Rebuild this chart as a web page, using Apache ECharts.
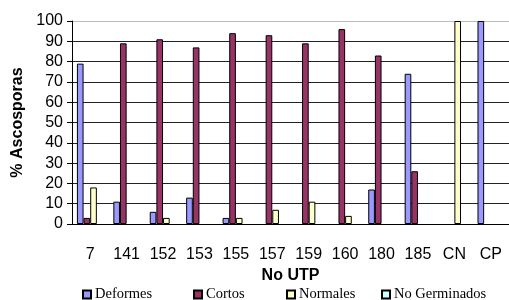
<!DOCTYPE html>
<html>
<head><meta charset="utf-8">
<script type="text/javascript" src="https://cdn.jsdelivr.net/npm/echarts@6/dist/echarts.min.js"></script>
</head>
<body style="margin:0;background:#fff;">
<div id="main" style="width:509px;height:300px;"></div>
<script type="text/javascript">
// categorias (No UTP)
var categorias = ['7', '141', '152', '153', '155', '157', '159', '160', '180', '185', 'CN', 'CP'];
// % ascosporas por tipo (null = sin barra)
var deformes = [79, 11, 6, 13, 3, null, null, null, 17, 74, null, 100];
var cortos = [3, 89, 91, 87, 94, 93, 89, 96, 83, 26, null, null];
var normales = [18, null, 3, null, 3, 7, 11, 4, null, null, 100, null];
var noGerminados = [null, null, null, null, null, null, null, null, null, null, null, null];
var yTicks = [0, 10, 20, 30, 40, 50, 60, 70, 80, 90, 100];

var nombres = ['Deformes', 'Cortos', 'Normales', 'No Germinados'];
var colores = ['#9999FF', '#993366', '#FFFFCC', '#CCFFFF'];
var datos = [deformes, cortos, normales, noGerminados];
var legendLeft = [82, 193, 286, 381];

var series = [];
var legends = [];
for (var i = 0; i < nombres.length; i++) {
    series.push({
        name: nombres[i],
        type: 'bar',
        data: datos[i],
        barGap: '0%',
        barCategoryGap: '27%',
        itemStyle: {color: colores[i], borderColor: '#000', borderWidth: 1}
    });
    legends.push({
        data: [nombres[i]],
        left: legendLeft[i],
        top: 287,
        itemWidth: 8,
        itemHeight: 8,
        itemGap: 0,
        padding: 0,
        icon: 'rect',
        textStyle: {fontFamily: 'Liberation Serif', fontSize: 14.5, color: '#000', padding: [0, 0, 0, -1]}
    });
}

// lineas de division: la de arriba mas clara
var gridColores = [];
for (var k = 0; k < yTicks.length - 1; k++) gridColores.push('#222');
gridColores.push('#bbb');

var myChart = echarts.init(document.getElementById('main'));
myChart.setOption({
    animation: false,
    legend: legends,
    grid: {left: 72, right: 0, top: 21, bottom: 76},
    xAxis: {
        type: 'category',
        data: categorias,
        name: 'No UTP',
        nameLocation: 'middle',
        nameGap: 38,
        nameTextStyle: {fontFamily: 'Liberation Sans', fontSize: 16, fontWeight: 'bold', color: '#000'},
        axisLine: {lineStyle: {color: '#000'}},
        axisTick: {length: 5, lineStyle: {color: '#000'}},
        axisLabel: {fontFamily: 'Liberation Sans', fontSize: 16, color: '#000', margin: 23}
    },
    yAxis: {
        type: 'value',
        min: yTicks[0],
        max: yTicks[yTicks.length - 1],
        interval: 10,
        name: '% Ascosporas',
        nameLocation: 'middle',
        nameGap: 45,
        nameTextStyle: {fontFamily: 'Liberation Sans', fontSize: 16, fontWeight: 'bold', color: '#000'},
        axisLine: {show: true, lineStyle: {color: '#000'}},
        axisTick: {show: true, length: 5, lineStyle: {color: '#000'}},
        axisLabel: {fontFamily: 'Liberation Sans', fontSize: 16, color: '#000', margin: 9},
        splitLine: {lineStyle: {color: gridColores, width: 1}}
    },
    series: series
});
</script>
</body>
</html>
